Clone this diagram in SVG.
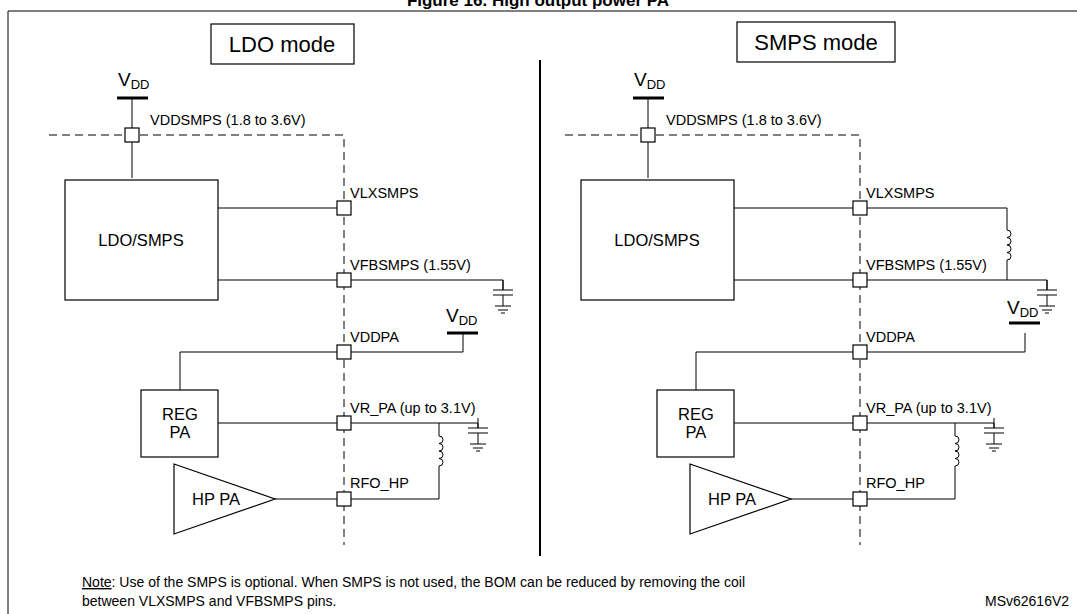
<svg xmlns="http://www.w3.org/2000/svg" width="1077" height="614" viewBox="0 0 1077 614">
<style>
text{font-family:"Liberation Sans",Arial,sans-serif;fill:#000}
.w{stroke:#000;stroke-width:1;fill:none}
.b{stroke:#000;stroke-width:1.2;fill:#fff}
.d{stroke:#000;stroke-width:1;fill:none;stroke-dasharray:8,5}
.pin{stroke:#000;stroke-width:1.2;fill:#fff}
.lbl{font-size:14.5px}
.blk{font-size:16.5px}
.big{font-size:22px}
.bar{stroke:#000;stroke-width:3}
.note{font-family:"Liberation Sans Narrow","Liberation Sans",sans-serif;font-size:14px}
</style>
<defs>
<path id="coil" d="M0,0 a4,3.75 0 0 1 0,7.5 a4,3.75 0 0 1 0,7.5 a4,3.75 0 0 1 0,7.5 a4,3.75 0 0 1 0,7.5" class="w"/>
<g id="cap">
<path class="w" d="M0,0 V10 M-10,10 H10 M-10,15 H10 M0,15 V26 M-8,26 H8 M-5,30 H5 M-2,33 H2"/>
</g>
</defs>
<rect x="0" y="0" width="1077" height="614" fill="#fff"/>
<text x="538" y="6" font-size="17" font-weight="bold" text-anchor="middle">Figure 16. High output power PA</text>
<path d="M8,614 V11 H1077" class="w" stroke-width="1.5"/>
<line x1="540" y1="60" x2="540" y2="556" stroke="#000" stroke-width="2"/>

<g id="connectors">
<path class="d" d="M49,135 H344 V545"/>
<path class="w" d="M132,98 V178"/>
<path class="w" d="M218,208 H344 M218,280 H503 V290"/>
<path class="w" d="M344,352 H463 V333 M344,352 H180 V390"/>
<path class="w" d="M218,423 H478 V428 M439,423 V436 M439,466 V499 H344 M275,499 H344"/>
<path class="d" d="M565,135 H860 V545"/>
<path class="w" d="M648,98 V178"/>
<path class="w" d="M734,208 H1007 V230 M1007,260 V280 M734,280 H1047 V290"/>
<path class="w" d="M860,352 H1025 V333 M860,352 H696 V390"/>
<path class="w" d="M734,423 H994 V428 M955,423 V436 M955,466 V499 H860 M791,499 H860"/>
</g>
<use href="#coil" x="439" y="436"/>
<use href="#coil" x="955" y="436"/>
<use href="#coil" x="1007" y="230"/>
<use href="#cap" x="503" y="280"/>
<use href="#cap" x="478" y="418"/>
<use href="#cap" x="1047" y="280"/>
<use href="#cap" x="994" y="418"/>

<g id="left-panel">
<g id="ldo-mode"><rect x="211" y="24" width="143" height="40" class="b"/><text x="282" y="52" class="big" text-anchor="middle">LDO mode</text></g>
<g id="vdd1"><line x1="117" y1="98" x2="148" y2="98" class="bar"/><text x="118" y="86" font-size="19">V<tspan font-size="13" dy="3">DD</tspan></text></g>
<g id="vddsmps1"><rect x="125" y="128" width="14" height="14" class="pin"/><text x="150" y="125" class="lbl">VDDSMPS (1.8 to 3.6V)</text></g>
<g id="ldosmps1"><rect x="65" y="180" width="153" height="120" class="b"/><text x="141" y="246" class="blk" text-anchor="middle">LDO/SMPS</text></g>
<g id="vlx1"><rect x="337" y="201" width="14" height="14" class="pin"/><text x="350" y="198" class="lbl">VLXSMPS</text></g>
<g id="vfb1"><rect x="337" y="273" width="14" height="14" class="pin"/><text x="350" y="270" class="lbl">VFBSMPS (1.55V)</text></g>
<g id="vdd2"><line x1="447" y1="333" x2="478" y2="333" class="bar"/><text x="446" y="322" font-size="19">V<tspan font-size="13" dy="3">DD</tspan></text></g>
<g id="vddpa1"><rect x="337" y="345" width="14" height="14" class="pin"/><text x="350" y="342" class="lbl">VDDPA</text></g>
<g id="regpa1"><rect x="141" y="390" width="77" height="67" class="b"/><text x="180" y="420" class="blk" text-anchor="middle">REG</text><text x="180" y="438" class="blk" text-anchor="middle">PA</text></g>
<g id="vrpa1"><rect x="337" y="416" width="14" height="14" class="pin"/><text x="350" y="413" class="lbl">VR_PA (up to 3.1V)</text></g>
<g id="hppa1"><path d="M174,464 L275,499 L174,534 Z" class="b"/><text x="216" y="505" class="blk" text-anchor="middle">HP PA</text></g>
<g id="rfo1"><rect x="337" y="492" width="14" height="14" class="pin"/><text x="350" y="488" class="lbl">RFO_HP</text></g>
</g>

<g id="right-panel">
<g id="smps-mode"><rect x="737" y="22" width="158" height="40" class="b"/><text x="816" y="50" class="big" text-anchor="middle">SMPS mode</text></g>
<g id="vdd3"><line x1="633" y1="98" x2="664" y2="98" class="bar"/><text x="634" y="86" font-size="19">V<tspan font-size="13" dy="3">DD</tspan></text></g>
<g id="vddsmps2"><rect x="641" y="128" width="14" height="14" class="pin"/><text x="666" y="125" class="lbl">VDDSMPS (1.8 to 3.6V)</text></g>
<g id="ldosmps2"><rect x="581" y="180" width="153" height="120" class="b"/><text x="657" y="246" class="blk" text-anchor="middle">LDO/SMPS</text></g>
<g id="vlx2"><rect x="853" y="201" width="14" height="14" class="pin"/><text x="866" y="198" class="lbl">VLXSMPS</text></g>
<g id="vfb2"><rect x="853" y="273" width="14" height="14" class="pin"/><text x="866" y="270" class="lbl">VFBSMPS (1.55V)</text></g>
<g id="vdd4"><line x1="1009" y1="323" x2="1040" y2="323" class="bar"/><text x="1007" y="314" font-size="19">V<tspan font-size="13" dy="3">DD</tspan></text></g>
<g id="vddpa2"><rect x="853" y="345" width="14" height="14" class="pin"/><text x="866" y="342" class="lbl">VDDPA</text></g>
<g id="regpa2"><rect x="657" y="390" width="77" height="67" class="b"/><text x="696" y="420" class="blk" text-anchor="middle">REG</text><text x="696" y="438" class="blk" text-anchor="middle">PA</text></g>
<g id="vrpa2"><rect x="853" y="416" width="14" height="14" class="pin"/><text x="866" y="413" class="lbl">VR_PA (up to 3.1V)</text></g>
<g id="hppa2"><path d="M690,464 L791,499 L690,534 Z" class="b"/><text x="732" y="505" class="blk" text-anchor="middle">HP PA</text></g>
<g id="rfo2"><rect x="853" y="492" width="14" height="14" class="pin"/><text x="866" y="488" class="lbl">RFO_HP</text></g>
</g>

<text x="82" y="587" class="note"><tspan text-decoration="underline">Note</tspan>: Use of the SMPS is optional. When SMPS is not used, the BOM can be reduced by removing the coil</text>
<text x="82" y="606" class="note">between VLXSMPS and VFBSMPS pins.</text>
<text x="985" y="606" class="note">MSv62616V2</text>
</svg>
